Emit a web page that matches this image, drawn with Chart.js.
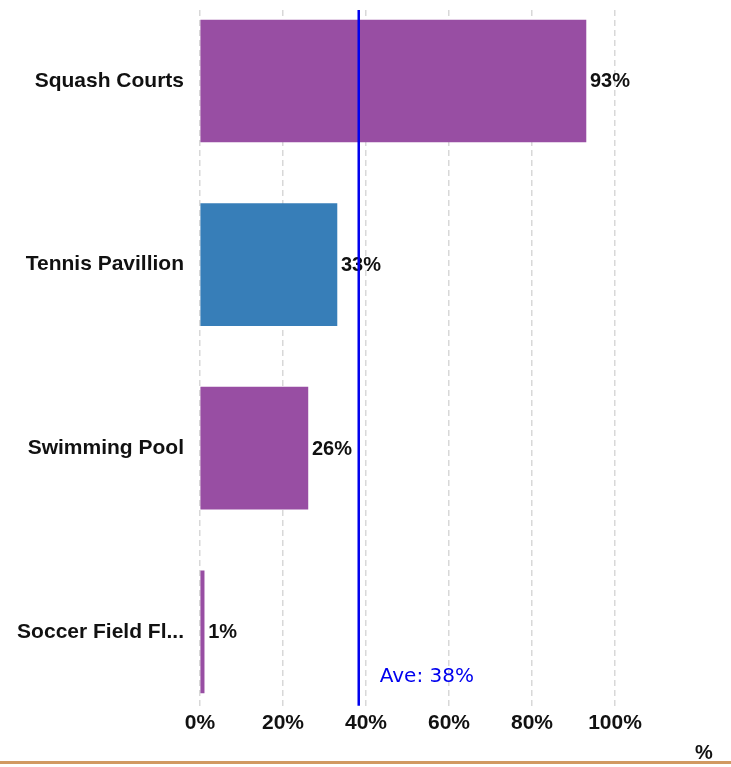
<!DOCTYPE html>
<html>
<head>
<meta charset="utf-8">
<script src="https://cdn.jsdelivr.net/npm/chart.js@4.4.1/dist/chart.umd.min.js"></script>
<style>
  html, body { margin: 0; padding: 0; background: #ffffff; }
  #wrap { position: relative; width: 731px; height: 767px; }
</style>
</head>
<body>
<div id="wrap"><canvas id="c" width="731" height="767"></canvas></div>
<script>
// ---- data ----
const categories = ["Squash Courts", "Tennis Pavillion", "Swimming Pool", "Soccer Field Fl..."];
const values = [93, 33, 26, 1];
const xTickValues = [0, 20, 40, 60, 80, 100];
const averageValue = values.reduce((a, b) => a + b, 0) / values.length;
const averageLabel = "Ave: " + Math.round(averageValue) + "%";
const axisUnit = "%";

// ---- styles ----
const barColors = ["#984ea3", "#377eb8", "#984ea3", "#984ea3"];
const valueFont = "bold 20px 'Liberation Sans', Arial, sans-serif";
const unitFont = "bold 20px 'Liberation Sans', Arial, sans-serif";

const points = values.map((v, i) => ({ x: v, y: i }));

const overlay = {
  id: 'overlay',
  afterDatasetsDraw(chart) {
    const ctx = chart.ctx;
    const meta = chart.getDatasetMeta(0);
    ctx.save();
    ctx.font = valueFont;
    ctx.fillStyle = '#111111';
    ctx.textAlign = 'left';
    ctx.textBaseline = 'middle';
    meta.data.forEach((bar, i) => {
      ctx.fillText(values[i] + '%', bar.x + 4, bar.y + 1);
    });
    ctx.restore();
  },
  afterDraw(chart) {
    const ctx = chart.ctx;
    const xs = chart.scales.x;
    const area = chart.chartArea;
    const ax = xs.getPixelForValue(averageValue);
    ctx.save();
    ctx.strokeStyle = '#0000ee';
    ctx.lineWidth = 2.5;
    ctx.beginPath();
    ctx.moveTo(ax, area.top);
    ctx.lineTo(ax, area.bottom);
    ctx.stroke();
    ctx.font = "20px 'DejaVu Sans', Tahoma, sans-serif";
    ctx.fillStyle = '#0000ee';
    ctx.textAlign = 'left';
    ctx.textBaseline = 'middle';
    ctx.fillText(averageLabel, ax + 21, 677);
    // unit label
    ctx.font = unitFont;
    ctx.fillStyle = '#111111';
    ctx.textAlign = 'center';
    ctx.fillText(axisUnit, 704, 753);
    // bottom rule
    ctx.fillStyle = '#d19a62';
    ctx.fillRect(0, 761, chart.width, 3);
    ctx.restore();
  }
};

new Chart(document.getElementById('c'), {
  type: 'bar',
  data: {
    datasets: [{
      data: points,
      backgroundColor: barColors,
      borderWidth: 0,
      barThickness: 122
    }]
  },
  options: {
    indexAxis: 'y',
    responsive: false,
    animation: false,
    layout: { padding: { top: 10, right: 116, bottom: 26, left: 0 } },
    plugins: { legend: { display: false }, tooltip: { enabled: false } },
    scales: {
      x: {
        type: 'linear',
        min: 0,
        max: 100,
        afterBuildTicks(scale) { scale.ticks = xTickValues.map(v => ({ value: v })); },
        grid: { color: '#d8d8d8', lineWidth: 1.5, drawTicks: false },
        border: { display: false, dash: [6, 4] },
        ticks: {
          padding: 5,
          color: '#111111',
          font: { family: "'Liberation Sans', Arial, sans-serif", size: 21, weight: 'bold' },
          callback: v => v + '%',
          maxRotation: 0
        }
      },
      y: {
        type: 'linear',
        reverse: true,
        offset: false,
        bounds: 'data',
        min: -0.3866,
        max: 3.403,
        afterBuildTicks(scale) { scale.ticks = categories.map((c, i) => ({ value: i })); },
        grid: { display: false, drawTicks: false, offset: false },
        border: { display: false },
        ticks: {
          padding: 16,
          color: '#111111',
          font: { family: "'Liberation Sans', Arial, sans-serif", size: 21, weight: 'bold' },
          callback: v => categories[v]
        },
        afterFit(scale) { scale.width = 200; scale.paddingTop = 0; scale.paddingBottom = 0; }
      }
    }
  },
  plugins: [overlay]
});
</script>
</body>
</html>
